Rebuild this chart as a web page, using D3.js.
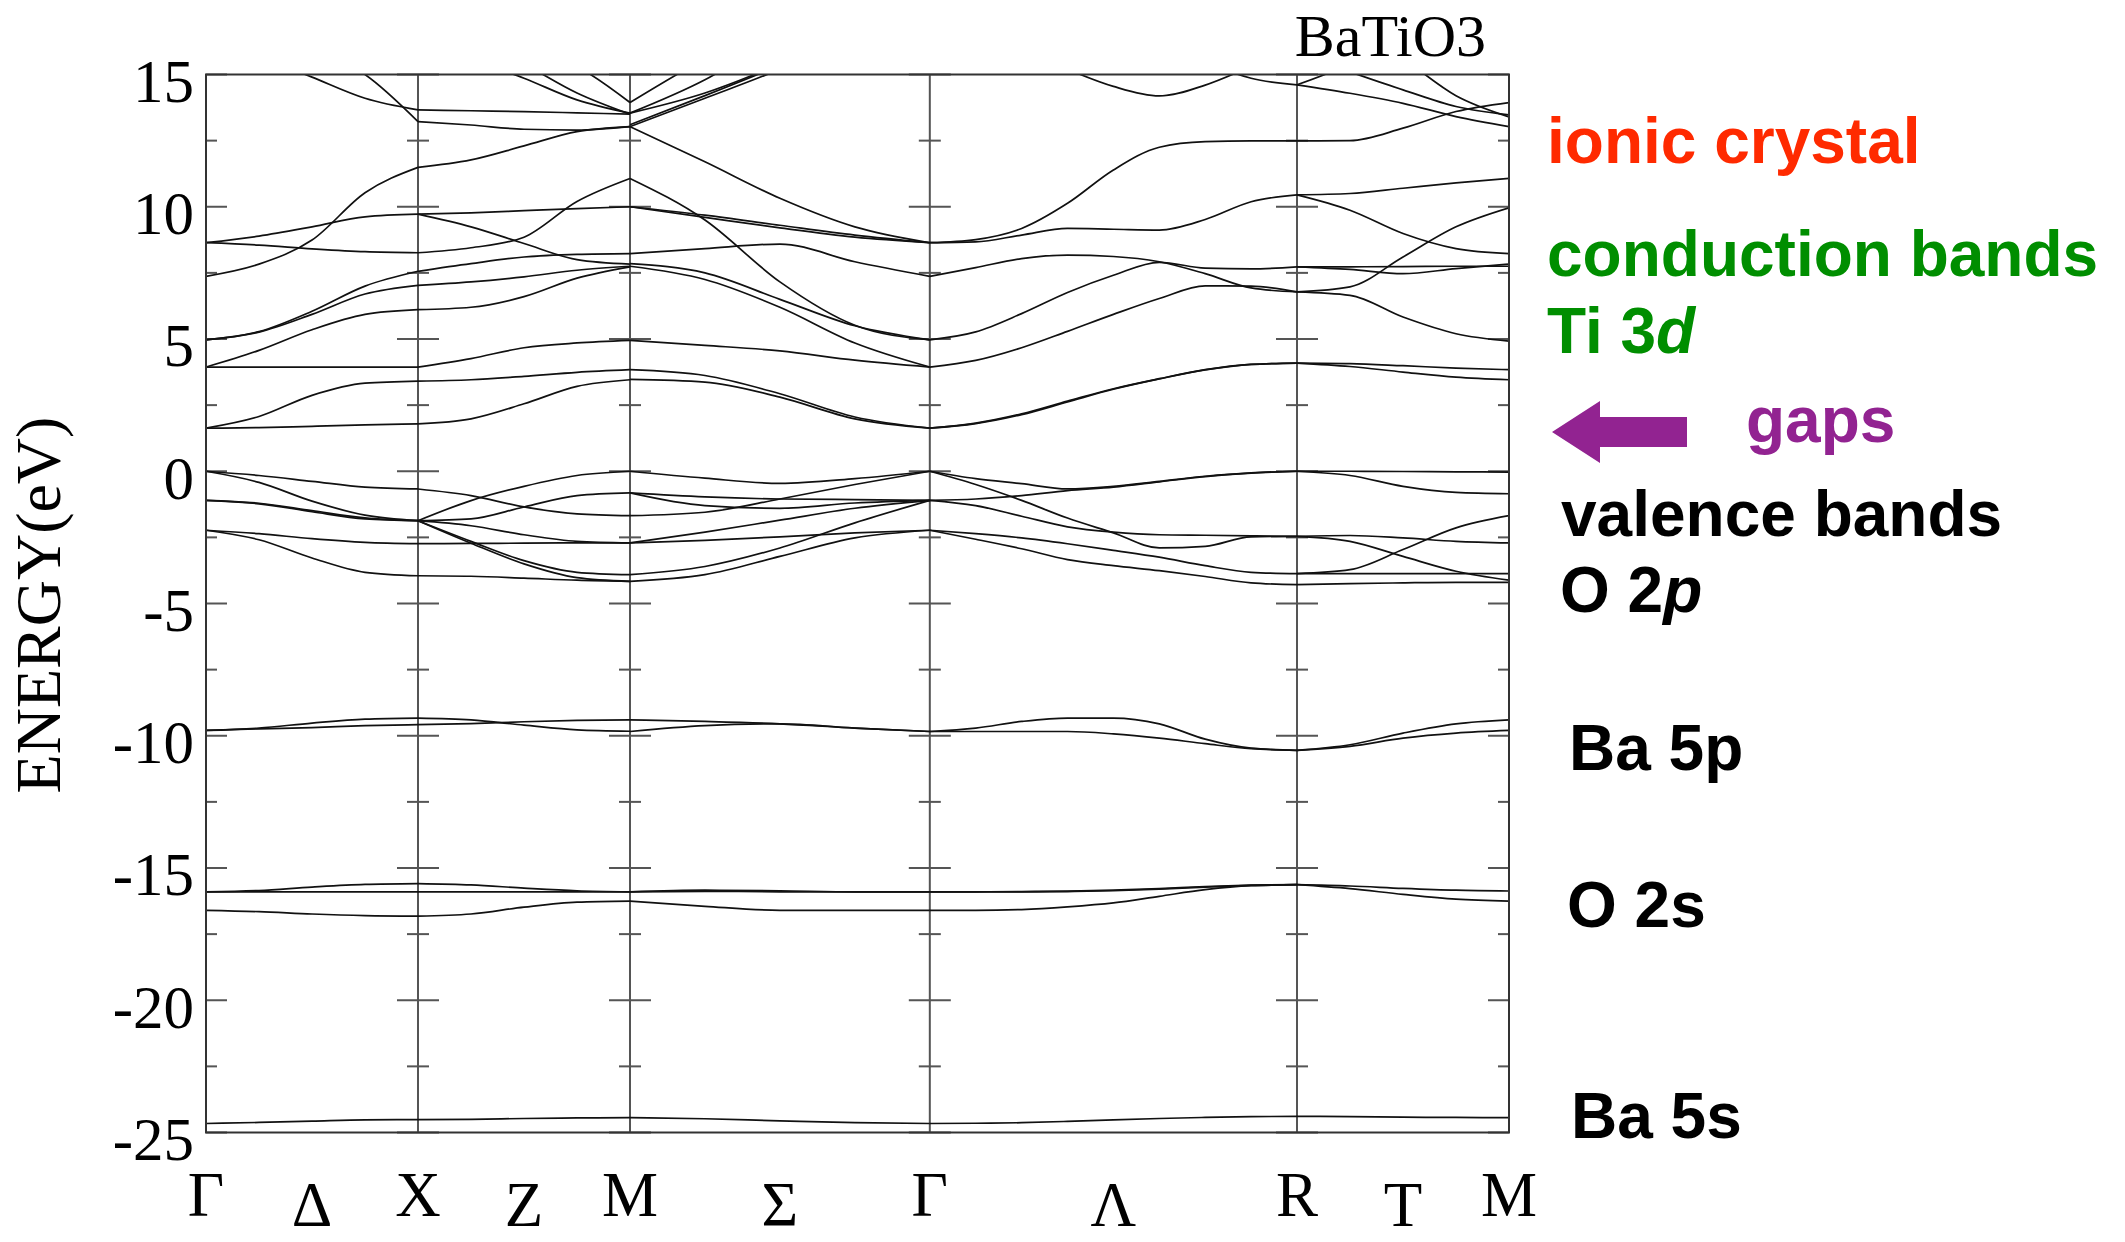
<!DOCTYPE html>
<html>
<head>
<meta charset="utf-8">
<script src="https://cdn.jsdelivr.net/npm/d3@7"></script>
<style>
  body { margin: 0; background: #fff; }
  .serif { font-family: "Liberation Serif", "Times New Roman", serif; }
  .sans { font-family: "Liberation Sans", Arial, sans-serif; font-weight: bold; }
</style>
</head>
<body>
<svg id="chart" width="2125" height="1242"></svg>
<script>
/* global d3 */

// high symmetry points along the path and their distances (units of 2pi/a)
var kLabels = ["Γ", "X", "M", "Γ", "R", "M"];
var kDist = [0, 1, 2, 2 + Math.SQRT2, 2 + Math.SQRT2 + Math.sqrt(3), 3 + Math.SQRT2 + Math.sqrt(3)];
var midLabels = ["Δ", "Z", "Σ", "Λ", "T"];
var yTicks = [15, 10, 5, 0, -5, -10, -15, -20, -25];

// energies (eV), evenly spaced along each segment
var bandsGX = [
  [16.6, 15.7, 14.9, 14.1, 13.66],
  [18.0, 17.0, 16.0, 15.0, 13.22],
  [7.37, 7.83, 8.74, 10.53, 11.49],
  [8.64, 8.89, 9.24, 9.62, 9.72],
  [8.64, 8.55, 8.41, 8.30, 8.26],
  [4.97, 5.28, 6.05, 7.00, 7.56],
  [4.97, 5.26, 5.93, 6.70, 7.03],
  [3.94, 4.57, 5.35, 5.93, 6.11],
  [3.94, 3.94, 3.94, 3.94, 3.94],
  [1.63, 2.07, 2.87, 3.33, 3.41],
  [1.63, 1.65, 1.70, 1.75, 1.79],
  [0, -0.16, -0.38, -0.60, -0.67],
  [0, -0.42, -1.13, -1.66, -1.87],
  [-1.10, -1.23, -1.53, -1.80, -1.87],
  [-1.10, -1.21, -1.49, -1.76, -1.87],
  [-2.23, -2.36, -2.55, -2.69, -2.74],
  [-2.23, -2.59, -3.28, -3.82, -3.95],
  [-9.80, -9.71, -9.52, -9.37, -9.33],
  [-9.80, -9.74, -9.69, -9.62, -9.58],
  [-15.90, -15.90, -15.90, -15.90, -15.90],
  [-15.90, -15.85, -15.72, -15.62, -15.59],
  [-16.60, -16.65, -16.74, -16.80, -16.82],
  [-24.66, -24.62, -24.57, -24.52, -24.51]
];

var bandsXM = [
  [13.66, 13.63, 13.60, 13.55, 13.50],
  [13.22, 13.09, 12.93, 12.90, 13.03],
  [11.49, 11.77, 12.30, 12.84, 13.03],
  [16.5, 15.6, 14.86, 14.04, 13.54],
  [17.5, 16.4, 15.4, 14.3, 13.50],
  [18.0, 17.0, 16.0, 15.3, 13.94],
  [9.72, 9.77, 9.85, 9.93, 10.00],
  [9.72, 9.24, 8.61, 8.00, 7.83],
  [8.26, 8.45, 8.85, 10.20, 11.07],
  [7.56, 7.85, 8.10, 8.20, 8.23],
  [7.03, 7.16, 7.35, 7.60, 7.75],
  [6.11, 6.20, 6.60, 7.30, 7.73],
  [3.94, 4.26, 4.67, 4.85, 4.95],
  [3.41, 3.46, 3.59, 3.74, 3.84],
  [1.79, 1.98, 2.55, 3.21, 3.46],
  [-0.67, -0.92, -1.35, -1.61, -1.68],
  [-1.87, -1.11, -0.57, -0.16, 0],
  [-1.87, -1.80, -1.35, -0.92, -0.82],
  [-1.87, -2.06, -2.40, -2.65, -2.71],
  [-1.87, -2.65, -3.38, -3.82, -3.91],
  [-1.87, -2.72, -3.50, -4.02, -4.16],
  [-2.74, -2.73, -2.72, -2.71, -2.71],
  [-3.95, -3.97, -4.04, -4.12, -4.16],
  [-9.33, -9.40, -9.60, -9.78, -9.83],
  [-9.58, -9.54, -9.47, -9.42, -9.40],
  [-15.90, -15.90, -15.90, -15.90, -15.90],
  [-15.59, -15.64, -15.76, -15.86, -15.90],
  [-16.82, -16.74, -16.48, -16.29, -16.25],
  [-24.51, -24.50, -24.47, -24.45, -24.44]
];

var bandsMG = [
  [13.94, 15.6, 17.0, 18.0, 19.0],
  [13.54, 14.8, 16.5, 18.0, 19.0],
  [13.03, 14.1, 15.2, 16.5, 17.5],
  [13.10, 14.2, 15.35, 16.6, 17.6],
  [13.54, 14.3, 15.4, 16.7, 17.8],
  [13.03, 11.70, 10.32, 9.24, 8.64],
  [11.07, 9.50, 7.16, 5.52, 4.97],
  [10.00, 9.68, 9.30, 8.93, 8.64],
  [10.00, 9.60, 9.20, 8.85, 8.64],
  [8.23, 8.42, 8.59, 7.92, 7.37],
  [7.85, 7.50, 6.50, 5.50, 4.97],
  [7.75, 7.25, 6.20, 4.85, 3.94],
  [4.95, 4.76, 4.55, 4.20, 3.94],
  [3.84, 3.62, 2.93, 2.05, 1.63],
  [3.47, 3.37, 2.80, 1.98, 1.63],
  [0, -0.26, -0.46, -0.28, 0],
  [-0.82, -1.30, -1.40, -1.20, -1.10],
  [-0.82, -0.97, -1.05, -1.07, -1.10],
  [-1.68, -1.55, -1.05, -0.50, 0],
  [-2.71, -2.30, -1.85, -1.40, -1.10],
  [-2.71, -2.61, -2.48, -2.33, -2.23],
  [-3.91, -3.60, -2.90, -1.95, -1.10],
  [-4.16, -3.91, -3.22, -2.52, -2.23],
  [-9.40, -9.46, -9.55, -9.71, -9.84],
  [-9.84, -9.62, -9.55, -9.71, -9.84],
  [-15.90, -15.84, -15.86, -15.90, -15.90],
  [-15.90, -15.88, -15.90, -15.90, -15.90],
  [-16.25, -16.45, -16.60, -16.60, -16.60],
  [-24.44, -24.48, -24.56, -24.63, -24.66]
];

var bandsGR = [
  [17.5, 16.8, 16.0, 15.2, 14.55, 14.19, 14.60, 15.3, 16.0],
  [19.0, 18.5, 18.0, 17.5, 17.0, 16.5, 15.5, 14.86, 14.61],
  [8.64, 8.76, 9.18, 10.13, 11.39, 12.25, 12.46, 12.49, 12.49],
  [8.64, 8.67, 8.93, 9.18, 9.15, 9.12, 9.52, 10.19, 10.45],
  [7.37, 7.70, 8.04, 8.17, 8.12, 7.92, 7.47, 6.93, 6.78],
  [4.97, 5.27, 5.96, 6.76, 7.41, 7.90, 7.68, 7.65, 7.73],
  [3.94, 4.19, 4.67, 5.29, 5.93, 6.53, 7.01, 7.00, 6.78],
  [1.63, 1.82, 2.17, 2.65, 3.12, 3.50, 3.84, 4.04, 4.09],
  [1.63, 1.80, 2.14, 2.62, 3.10, 3.49, 3.83, 4.04, 4.09],
  [0, -0.28, -0.47, -0.67, -0.57, -0.38, -0.19, -0.06, 0],
  [-1.10, -1.05, -0.92, -0.73, -0.60, -0.40, -0.20, -0.07, 0],
  [0, -0.50, -1.10, -1.77, -2.33, -2.90, -2.84, -2.48, -2.46],
  [-1.10, -1.30, -1.70, -2.10, -2.30, -2.40, -2.42, -2.44, -2.46],
  [-2.23, -2.36, -2.52, -2.74, -2.99, -3.25, -3.57, -3.82, -3.87],
  [-2.23, -2.57, -2.93, -3.34, -3.57, -3.76, -3.98, -4.22, -4.29],
  [-9.84, -9.71, -9.46, -9.33, -9.33, -9.55, -10.13, -10.47, -10.55],
  [-9.84, -9.84, -9.84, -9.84, -9.93, -10.09, -10.30, -10.49, -10.55],
  [-15.90, -15.90, -15.89, -15.87, -15.84, -15.78, -15.70, -15.65, -15.63],
  [-15.90, -15.90, -15.90, -15.89, -15.86, -15.80, -15.72, -15.66, -15.63],
  [-16.60, -16.60, -16.57, -16.47, -16.32, -16.07, -15.82, -15.67, -15.63],
  [-24.66, -24.65, -24.63, -24.58, -24.52, -24.47, -24.43, -24.40, -24.39]
];

var bandsRM = [
  [14.61, 14.29, 13.91, 13.41, 13.03],
  [15.8, 15.1, 14.42, 13.79, 13.47],
  [18.0, 16.8, 15.6, 14.2, 13.40],
  [14.61, 15.4, 16.5, 17.5, 18.0],
  [12.49, 12.50, 12.97, 13.60, 13.94],
  [10.45, 10.50, 10.70, 10.90, 11.07],
  [10.45, 9.87, 8.99, 8.42, 8.23],
  [7.73, 7.63, 7.47, 7.66, 7.83],
  [7.73, 7.73, 7.74, 7.75, 7.75],
  [6.78, 6.97, 8.10, 9.24, 9.96],
  [6.78, 6.65, 5.83, 5.20, 4.92],
  [4.09, 4.07, 3.99, 3.90, 3.84],
  [4.09, 3.96, 3.75, 3.56, 3.46],
  [0, 0, -0.01, -0.02, -0.03],
  [0, -0.16, -0.57, -0.80, -0.85],
  [-2.46, -2.43, -2.52, -2.65, -2.71],
  [-2.46, -2.65, -3.22, -3.78, -4.12],
  [-3.87, -3.72, -2.96, -2.14, -1.68],
  [-3.87, -3.87, -3.87, -3.87, -3.87],
  [-4.29, -4.25, -4.22, -4.20, -4.20],
  [-10.55, -10.34, -9.90, -9.55, -9.40],
  [-10.55, -10.40, -10.09, -9.90, -9.80],
  [-15.63, -15.68, -15.77, -15.84, -15.87],
  [-15.63, -15.78, -16.00, -16.18, -16.25],
  [-24.39, -24.40, -24.42, -24.43, -24.44]
];

var segments = [bandsGX, bandsXM, bandsMG, bandsGR, bandsRM];

// ---- layout ----
var plot = { left: 206, right: 1509, top: 74.5, bottom: 1132.5 };

var x = d3.scaleLinear()
  .domain([0, kDist[kDist.length - 1]])
  .range([plot.left, plot.right]);
var y = d3.scaleLinear()
  .domain([-25, 15])
  .range([plot.bottom, plot.top]);

var svg = d3.select("#chart");

svg.append("defs").append("clipPath")
  .attr("id", "plotclip")
  .append("rect")
  .attr("x", plot.left)
  .attr("y", plot.top)
  .attr("width", plot.right - plot.left)
  .attr("height", plot.bottom - plot.top);

// vertical lines at the inner symmetry points
svg.selectAll(".kline")
  .data(kDist.slice(1, -1))
  .enter().append("line")
  .attr("class", "kline")
  .attr("x1", function(d) { return x(d); })
  .attr("x2", function(d) { return x(d); })
  .attr("y1", plot.top)
  .attr("y2", plot.bottom)
  .attr("stroke", "#555")
  .attr("stroke-width", 2);

// ticks on every vertical line (inward on the frame, crossing inside)
var minorTicks = d3.range(12.5, -25, -5);
var tickG = svg.append("g").attr("stroke", "#555").attr("stroke-width", 2);
function drawTicks(vals, len) {
  kDist.forEach(function(k, i) {
    var xx = x(k);
    var x1 = (i === 0) ? xx : xx - len;
    var x2 = (i === kDist.length - 1) ? xx : xx + len;
    vals.forEach(function(e) {
      tickG.append("line")
        .attr("x1", x1).attr("x2", x2)
        .attr("y1", y(e)).attr("y2", y(e));
    });
  });
}
drawTicks(yTicks, 21);
drawTicks(minorTicks, 11);

// bands
var line = d3.line()
  .x(function(d) { return x(d[0]); })
  .y(function(d) { return y(d[1]); })
  .curve(d3.curveMonotoneX);

var bandG = svg.append("g").attr("clip-path", "url(#plotclip)");
segments.forEach(function(bands, s) {
  var k0 = kDist[s], k1 = kDist[s + 1];
  bands.forEach(function(vals) {
    var pts = vals.map(function(e, i) {
      return [k0 + (k1 - k0) * i / (vals.length - 1), e];
    });
    bandG.append("path")
      .attr("d", line(pts))
      .attr("fill", "none")
      .attr("stroke", "#111")
      .attr("stroke-width", 1.7);
  });
});

// frame
svg.append("rect")
  .attr("x", plot.left)
  .attr("y", plot.top)
  .attr("width", plot.right - plot.left)
  .attr("height", plot.bottom - plot.top)
  .attr("fill", "none")
  .attr("stroke", "#333")
  .attr("stroke-width", 2);

// y tick labels
var yAxis = svg.append("g")
  .attr("transform", "translate(" + plot.left + ",0)")
  .call(d3.axisLeft(y).tickValues(yTicks).tickSize(0).tickPadding(12)
    .tickFormat(function(d) { return d; }));
yAxis.select(".domain").remove();
yAxis.selectAll("text")
  .attr("class", "serif")
  .attr("font-size", "61px")
  .attr("fill", "#000")
  .attr("dy", "0.44em");

// k labels
svg.selectAll(".klabel")
  .data(kLabels)
  .enter().append("text")
  .attr("class", "serif")
  .attr("x", function(d, i) { return x(kDist[i]); })
  .attr("y", 1216)
  .attr("text-anchor", "middle")
  .attr("font-size", "63px")
  .text(function(d) { return d; });

svg.selectAll(".midlabel")
  .data(midLabels)
  .enter().append("text")
  .attr("class", "serif")
  .attr("x", function(d, i) { return x((kDist[i] + kDist[i + 1]) / 2); })
  .attr("y", 1226)
  .attr("text-anchor", "middle")
  .attr("font-size", "63px")
  .text(function(d) { return d; });

// axis title and plot title
svg.append("text")
  .attr("class", "serif")
  .attr("transform", "translate(60,605) rotate(-90)")
  .attr("text-anchor", "middle")
  .attr("font-size", "64px")
  .text("ENERGY(eV)");

svg.append("text")
  .attr("class", "serif")
  .attr("x", 1486)
  .attr("y", 56)
  .attr("text-anchor", "end")
  .attr("font-size", "60px")
  .text("BaTiO3");

// annotations on the right
function note(txt, xx, yy, color, italicPart) {
  var t = svg.append("text")
    .attr("class", "sans")
    .attr("x", xx)
    .attr("y", yy)
    .attr("font-size", "64px")
    .attr("fill", color);
  t.append("tspan").text(txt);
  if (italicPart) t.append("tspan").attr("font-style", "italic").text(italicPart);
}
note("ionic crystal", 1547, 163, "#ff2a00");
note("conduction bands", 1547, 276, "#008e00");
note("Ti 3", 1547, 353, "#008e00", "d");
note("gaps", 1746, 442, "#922391");
note("valence bands", 1561, 536, "#000");
note("O 2", 1560, 612, "#000", "p");
note("Ba 5p", 1569, 770, "#000");
note("O 2s", 1567, 927, "#000");
note("Ba 5s", 1571, 1138, "#000");

// arrow pointing at the gap
var arrow = [[1552, 432], [1600, 401], [1600, 417], [1687, 417], [1687, 447], [1600, 447], [1600, 463]];
svg.append("polygon")
  .attr("points", arrow.map(function(p) { return p.join(","); }).join(" "))
  .attr("fill", "#922391");
</script>
</body>
</html>
